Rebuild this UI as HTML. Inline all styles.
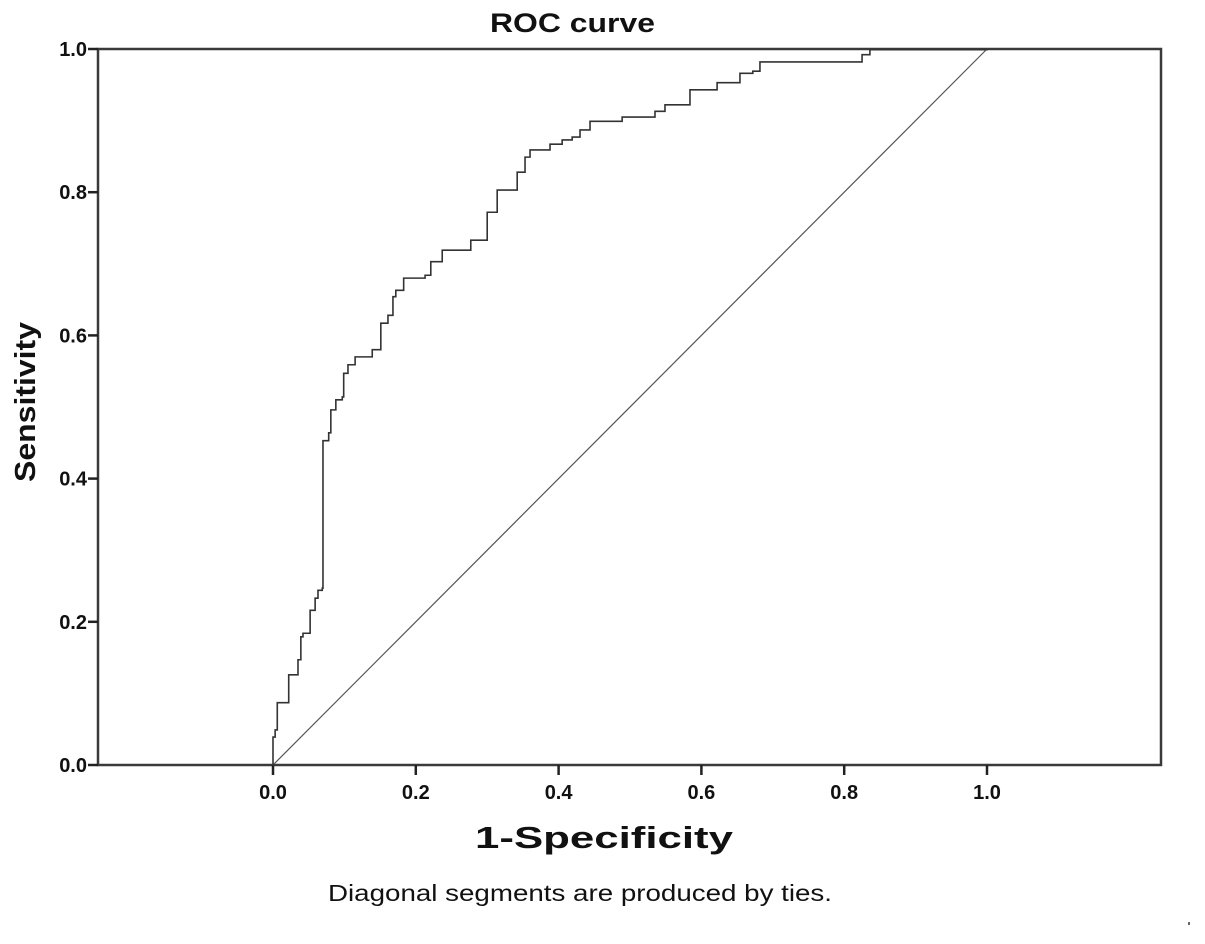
<!DOCTYPE html>
<html><head><meta charset="utf-8">
<style>
html,body{margin:0;padding:0;background:#fff;}
svg text{font-family:"Liberation Sans",Arial,sans-serif;}
</style></head>
<body>
<svg id="chart" width="1205" height="939" viewBox="0 0 1205 939" xmlns="http://www.w3.org/2000/svg">
<text x="490" y="32" textLength="165" lengthAdjust="spacingAndGlyphs" font-size="27" font-weight="bold" fill="#111">ROC curve</text>
<g id="axes"></g>
<g id="marks"></g>
<text x="475" y="848" textLength="258" lengthAdjust="spacingAndGlyphs" font-size="31" font-weight="bold" fill="#111">1-Specificity</text>
<text transform="translate(35,482) rotate(-90)" textLength="160" lengthAdjust="spacingAndGlyphs" font-size="29" font-weight="bold" fill="#111">Sensitivity</text>
<text x="328" y="901" textLength="504" lengthAdjust="spacingAndGlyphs" font-size="23" fill="#111">Diagonal segments are produced by ties.</text>
<rect x="1188" y="922" width="2" height="3" fill="#666"/>
</svg>
<script>
const xTicks = [0, 0.2, 0.4, 0.6, 0.8, 1.0];
const yTicks = [0, 0.2, 0.4, 0.6, 0.8, 1.0];
const tickLabels = ["0.0","0.2","0.4","0.6","0.8","1.0"];
const fpr = [0,0,.003,.006,.006,.022,.022,.035,.039,.042,.052,.059,.063,.069,.070,.078,.081,.088,.097,.099,.105,.115,.139,.151,.161,.168,.172,.183,.213,.221,.237,.277,.300,.314,.342,.353,.360,.388,.405,.419,.430,.444,.489,.535,.549,.584,.622,.654,.672,.682,.825,.836,1.0];
const tpr = [0,.039,.049,.056,.087,.087,.126,.147,.179,.184,.216,.233,.244,.247,.453,.464,.496,.510,.514,.547,.559,.570,.580,.617,.628,.654,.663,.680,.684,.703,.719,.733,.772,.803,.828,.849,.859,.867,.873,.877,.887,.899,.905,.913,.922,.943,.953,.966,.969,.982,.992,.999,1.0];
const diagX = [0, 1];
const diagY = [0, 1];

const NS = "http://www.w3.org/2000/svg";
const X0 = 273, X1 = 987, Y0 = 765, Y1 = 49;
const FL = 98, FR = 1161;
function sx(v){ return X0 + v*(X1-X0); }
function sy(v){ return Y0 - v*(Y0-Y1); }
function mk(tag, attrs, parent){
  const e = document.createElementNS(NS, tag);
  for (const k in attrs) e.setAttribute(k, attrs[k]);
  parent.appendChild(e); return e;
}
const axes = document.getElementById('axes');
const marks = document.getElementById('marks');

const frame = mk('rect', {x:FL, y:Y1, width:FR-FL, height:Y0-Y1, fill:'none', stroke:'#3a3a3a', 'stroke-width':2.5}, axes);



yTicks.forEach((v,i)=>{
  const t = mk('line', {x1:FL-10, x2:FL, y1:sy(v), y2:sy(v), stroke:'#222', 'stroke-width':2.5}, axes);
  
  
  const l = mk('text', {x:FL-11, y:sy(v)+7, 'text-anchor':'end', 'font-size':20, 'font-weight':'bold', fill:'#111'}, axes);
  l.textContent = tickLabels[i];
  
  
});
xTicks.forEach((v,i)=>{
  const t = mk('line', {x1:sx(v), x2:sx(v), y1:Y0, y2:Y0+10, stroke:'#222', 'stroke-width':2.5}, axes);
  
  
  const l = mk('text', {x:sx(v), y:Y0+34, 'text-anchor':'middle', 'font-size':20, 'font-weight':'bold', fill:'#111'}, axes);
  l.textContent = tickLabels[i];
  
  
});

const dl = mk('line', {x1:sx(diagX[0]), y1:sy(diagY[0]), x2:sx(diagX[1]), y2:sy(diagY[1]), stroke:'#555', 'stroke-width':1.2}, marks);



let d = 'M' + sx(fpr[0]) + ' ' + sy(tpr[0]);
for (let i=1;i<fpr.length;i++){
  d += ' H' + sx(fpr[i]) + ' V' + sy(tpr[i]);
}
const curve = mk('path', {d:d, fill:'none', stroke:'#333', 'stroke-width':1.6}, marks);


</script>
</body></html>
